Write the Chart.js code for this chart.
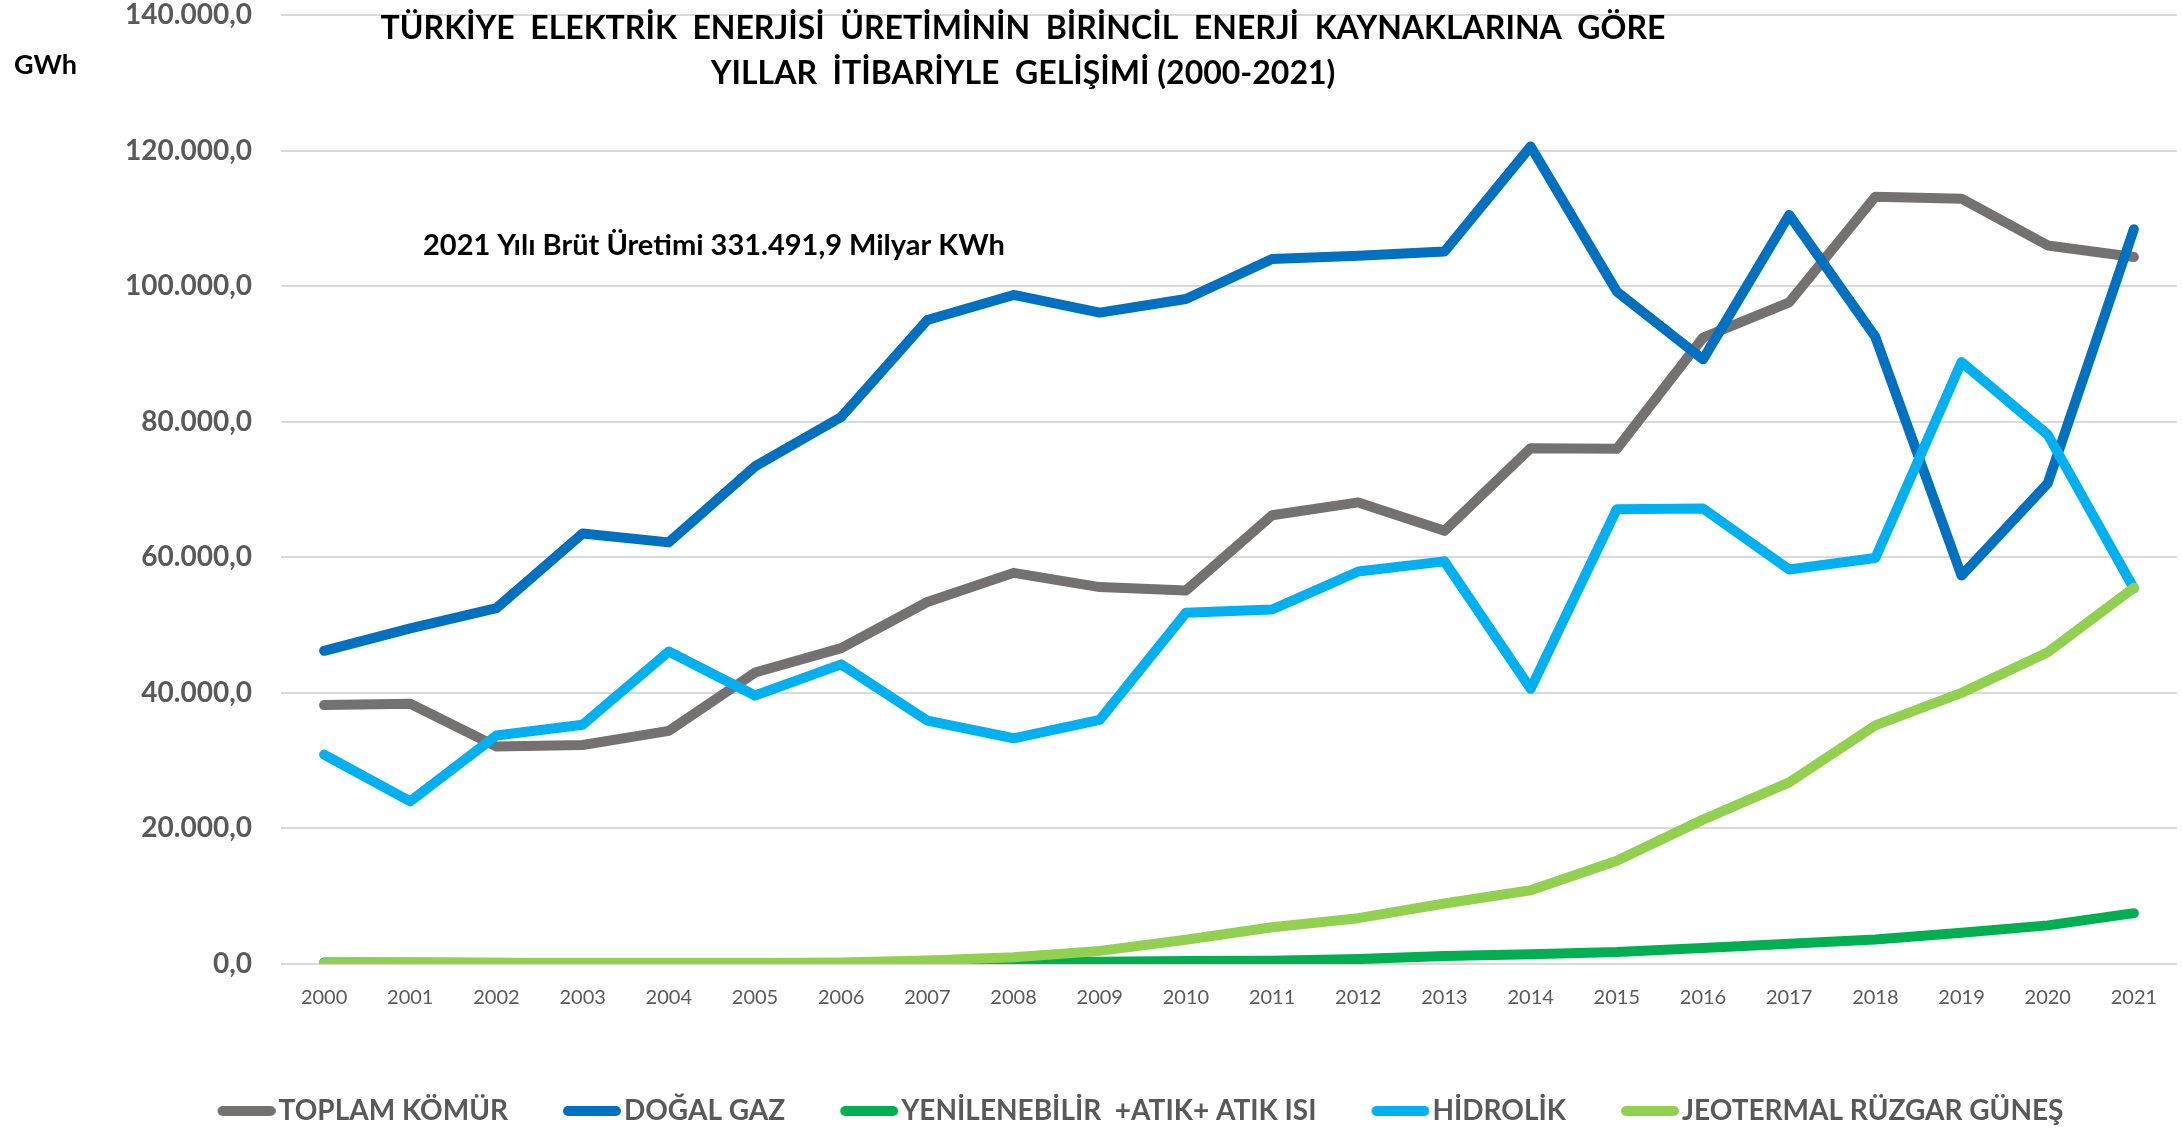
<!DOCTYPE html>
<html>
<head>
<meta charset="utf-8">
<script src="https://cdn.jsdelivr.net/npm/chart.js@4"></script>
<style>
  html, body { margin: 0; padding: 0; background: #ffffff; }
  #wrap { width: 2182px; height: 1132px; position: relative; }
</style>
</head>
<body>
<div id="wrap"><canvas id="c" width="2182" height="1132"></canvas></div>
<script>
const years = ['2000','2001','2002','2003','2004','2005','2006','2007','2008','2009','2010',
               '2011','2012','2013','2014','2015','2016','2017','2018','2019','2020','2021'];

const komur = [38200, 38400, 32100, 32300, 34400, 43000, 46600, 53400, 57700, 55600, 55100,
               66200, 68100, 63900, 76100, 76000, 92400, 97600, 113200, 112900, 106000, 104300];
const dogalGaz = [46200, 49500, 52500, 63500, 62200, 73400, 80700, 95000, 98700, 96100, 98100,
                  104000, 104500, 105100, 120600, 99200, 89200, 110500, 92500, 57300, 70900, 108400];
const yenilenebilir = [220, 230, 174, 116, 104, 122, 154, 214, 220, 340, 458,
                       469, 721, 1171, 1431, 1758, 2372, 2972, 3623, 4624, 5700, 7500];
const hidrolik = [30900, 24000, 33700, 35300, 46100, 39600, 44200, 35900, 33300, 36000, 51800,
                  52300, 57900, 59400, 40600, 67100, 67200, 58200, 59900, 88800, 78100, 55400];
const jeoRuzGun = [109, 152, 153, 150, 151, 153, 221, 511, 1009, 1931, 3585,
                   5418, 6760, 8921, 10871, 15235, 21300, 26800, 35200, 40000, 46000, 55500];

const seriesNames = ['TOPLAM KÖMÜR', 'DOĞAL GAZ', 'YENİLENEBİLİR  +ATIK+ ATIK ISI', 'HİDROLİK', 'JEOTERMAL RÜZGAR GÜNEŞ'];
const seriesColors = ['#767171', '#0070C0', '#00B050', '#00B0F0', '#92D050'];
const seriesData = [komur, dogalGaz, yenilenebilir, hidrolik, jeoRuzGun];

const titleLines = ['TÜRKİYE  ELEKTRİK  ENERJİSİ  ÜRETİMİNİN  BİRİNCİL  ENERJİ  KAYNAKLARINA  GÖRE',
                    'YILLAR  İTİBARİYLE  GELİŞİMİ (2000-2021)'];
const unitLabel = 'GWh';
const noteText = '2021 Yılı Brüt Üretimi 331.491,9 Milyar KWh';

function fmtTR(v) {
  const s = Math.round(v).toString().replace(/\B(?=(\d{3})+(?!\d))/g, '.');
  return s + ',0';
}

const FONT = 'Lato, "Open Sans", "DejaVu Sans", sans-serif';

// Legend swatch: a rounded line sitting at the right of a wider transparent image,
// so the swatch ends close to the legend text (as in the reference).
const SWATCH_W = 58, FONT_SIZE_LEG = 28;
function makeSwatch(color) {
  const extra = FONT_SIZE_LEG / 2 - 3;
  const W = SWATCH_W + 2 * extra, H = 14;
  const cv = document.createElement('canvas');
  cv.width = W; cv.height = H;
  const c = cv.getContext('2d');
  c.strokeStyle = color;
  c.lineWidth = 10;
  c.lineCap = 'round';
  c.beginPath();
  c.moveTo(2 * extra + 5, H / 2);
  c.lineTo(W - 5, H / 2);
  c.stroke();
  return cv;
}

const textPlugin = {
  id: 'texts',
  afterDraw(chart) {
    const ctx = chart.ctx;
    ctx.save();
    ctx.fillStyle = '#000000';
    ctx.textBaseline = 'middle';
    ctx.textAlign = 'center';
    ctx.font = 'bold 32px ' + FONT;
    ctx.fillText(titleLines[0], 1023, 29);
    ctx.fillText(titleLines[1], 1023, 74);
    ctx.textAlign = 'left';
    ctx.font = 'bold 27px ' + FONT;
    ctx.fillText(unitLabel, 14, 65);
    ctx.font = 'bold 29px ' + FONT;
    ctx.fillText(noteText, 423, 246);
    ctx.restore();
  }
};

const datasets = seriesNames.map((name, i) => ({
  label: name,
  data: seriesData[i],
  borderColor: seriesColors[i],
  backgroundColor: seriesColors[i],
  borderWidth: 10,
  borderCapStyle: 'round',
  borderJoinStyle: 'round',
  pointRadius: 0,
  pointHoverRadius: 0,
  pointStyle: makeSwatch(seriesColors[i]),
  tension: 0,
  fill: false,
  order: -i
}));

new Chart(document.getElementById('c'), {
  type: 'line',
  data: { labels: years, datasets },
  plugins: [textPlugin],
  options: {
    responsive: false,
    animation: false,
    devicePixelRatio: 1,
    layout: { padding: { left: 93, right: 5, top: 15, bottom: -3 } },
    plugins: {
      title: { display: false },
      tooltip: { enabled: false },
      legend: {
        display: true,
        position: 'bottom',
        align: 'center',
        labels: {
          sort: (a, b) => a.datasetIndex - b.datasetIndex,
          usePointStyle: true,
          pointStyleWidth: SWATCH_W,
          boxHeight: FONT_SIZE_LEG,
          padding: 44,
          color: '#595959',
          font: { family: FONT, size: FONT_SIZE_LEG, weight: 'bold' }
        }
      }
    },
    scales: {
      x: {
        type: 'category',
        offset: true,
        grid: { display: false, drawTicks: false },
        border: { display: false },
        ticks: {
          color: '#595959',
          padding: 22,
          maxRotation: 0,
          autoSkip: false,
          font: { family: FONT, size: 20 }
        },
        afterFit(scale) { scale.height = 89; }
      },
      y: {
        min: 0,
        max: 140000,
        grid: { color: '#d9d9d9', lineWidth: 2, drawTicks: false },
        border: { display: false },
        ticks: {
          stepSize: 20000,
          color: '#595959',
          padding: 29,
          font: { family: FONT, size: 28, weight: 'bold' },
          callback: (v) => fmtTR(v)
        },
        afterFit(scale) {
          scale.width = 188;
          scale.paddingTop = 0;
          scale.paddingBottom = 0;
        }
      }
    }
  }
});
</script>
</body>
</html>
